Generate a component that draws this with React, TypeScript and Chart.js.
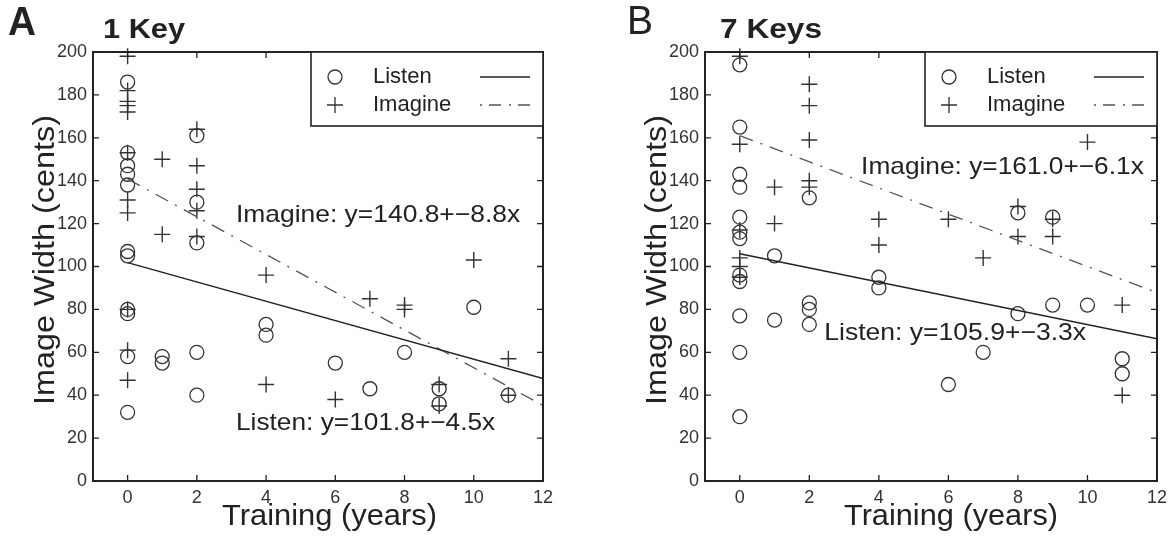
import React, { useEffect, useRef } from "react";
import { Chart, registerables } from "chart.js";
Chart.register(...registerables);

// ---------- data ----------
const X_TICKS = [0, 2, 4, 6, 8, 10, 12];
const Y_TICKS = [0, 20, 40, 60, 80, 100, 120, 140, 160, 180, 200];
const SERIES_NAMES = ["Listen", "Imagine"];
const FIT_X = [0, 12];

// Panel A (1 Key)
const A_LISTEN_X = [0, 0, 0, 0, 0, 0, 0, 0, 0, 0, 0, 1, 1, 2, 2, 2, 2, 2, 4, 4, 6, 7, 8, 9, 9, 10, 11];
const A_LISTEN_Y = [186, 153, 147, 143, 138, 107, 105, 80, 78, 58, 32, 58, 55, 161, 130, 111, 60, 40, 73, 68, 55, 43, 60, 43, 36, 81, 40];
const A_IMAGINE_X = [0, 0, 0, 0, 0, 0, 0, 0, 0, 0, 0, 1, 1, 2, 2, 2, 2, 2, 4, 4, 6, 7, 8, 8, 9, 9, 10, 11, 11];
const A_IMAGINE_Y = [198, 182, 177, 175, 172, 153, 131, 125, 80, 61, 47, 150, 115, 164, 147, 136, 126, 114, 96, 45, 38, 85, 82, 80, 45, 35, 103, 57, 40];
const A_LISTEN_FIT = [101.8, 47.8];
const A_IMAGINE_FIT = [140.8, 35.2];
const A_LISTEN_EQ = "Listen: y=101.8+\u22124.5x";
const A_IMAGINE_EQ = "Imagine: y=140.8+\u22128.8x";

// Panel B (7 Keys)
const B_LISTEN_X = [0, 0, 0, 0, 0, 0, 0, 0, 0, 0, 0, 0, 1, 1, 2, 2, 2, 2, 4, 4, 6, 7, 8, 8, 9, 9, 10, 11, 11];
const B_LISTEN_Y = [194, 165, 143, 137, 123, 116, 113, 96, 93, 77, 60, 30, 105, 75, 132, 83, 80, 73, 95, 90, 45, 60, 125, 78, 123, 82, 82, 57, 50];
const B_IMAGINE_X = [0, 0, 0, 0, 0, 0, 1, 1, 2, 2, 2, 2, 2, 4, 4, 6, 7, 8, 8, 9, 9, 10, 11, 11];
const B_IMAGINE_Y = [198, 157, 117, 104, 100, 95, 137, 120, 185, 175, 159, 140, 137, 122, 110, 122, 104, 128, 114, 122, 114, 158, 82, 40];
const B_LISTEN_FIT = [105.9, 66.3];
const B_IMAGINE_FIT = [161.0, 87.8];
const B_LISTEN_EQ = "Listen: y=105.9+\u22123.3x";
const B_IMAGINE_EQ = "Imagine: y=161.0+\u22126.1x";

// ---------- styling ----------
const INK = "#222";
const MARK = "#333";
const FONT = "'Liberation Sans', Arial, Helvetica, sans-serif";
const DASH = [14, 8, 2, 8];
const CW = 587;
const CH = 537;

const zip = (xs: number[], ys: number[]) => xs.map((x, i) => ({ x, y: ys[i] }));

function fitText(ctx: CanvasRenderingContext2D, text: string, x1: number, x2: number, y: number, font: string, baseline: CanvasTextBaseline = "middle") {
  ctx.save();
  ctx.font = font;
  ctx.textAlign = "left";
  ctx.textBaseline = baseline;
  const w = ctx.measureText(text).width;
  ctx.translate(x1, y);
  ctx.scale((x2 - x1) / w, 1);
  ctx.fillText(text, 0, 0);
  ctx.restore();
}

const PANELS = [
  {
    offset: 0,
    area: { left: 93, top: 52, right: 543, bottom: 481 },
    letter: "A", letterFont: `bold 40px ${FONT}`, letterX: [8, 36], letterY: 35,
    title: "1 Key", titleX: [103, 185],
    xTitleX: [222, 437], yTitleX: 46,
    listen: zip(A_LISTEN_X, A_LISTEN_Y), imagine: zip(A_IMAGINE_X, A_IMAGINE_Y),
    listenFit: zip(FIT_X, A_LISTEN_FIT), imagineFit: zip(FIT_X, A_IMAGINE_FIT),
    listenEq: A_LISTEN_EQ, imagineEq: A_IMAGINE_EQ,
    listenEqPos: { x1: 3.13, x2: 10.62, y: 27 },
    imagineEqPos: { x1: 3.13, x2: 11.34, y: 124 },
  },
  {
    offset: 587,
    area: { left: 705, top: 52, right: 1157, bottom: 481 },
    letter: "B", letterFont: `40px ${FONT}`, letterX: [627, 653], letterY: 34,
    title: "7 Keys", titleX: [720, 822],
    xTitleX: [844, 1058], yTitleX: 658,
    listen: zip(B_LISTEN_X, B_LISTEN_Y), imagine: zip(B_IMAGINE_X, B_IMAGINE_Y),
    listenFit: zip(FIT_X, B_LISTEN_FIT), imagineFit: zip(FIT_X, B_IMAGINE_FIT),
    listenEq: B_LISTEN_EQ, imagineEq: B_IMAGINE_EQ,
    listenEqPos: { x1: 2.43, x2: 9.96, y: 69 },
    imagineEqPos: { x1: 3.49, x2: 11.62, y: 146 },
  },
];

function Panel({ p }: { p: any }) {
  const ref = useRef<HTMLCanvasElement>(null);
  useEffect(() => {
    const off = p.offset;
    const L = p.area.left - off, R = p.area.right - off, T = p.area.top, B = p.area.bottom;
    const YW = 40, XH = 30;

    const decor = {
      id: "decor" + p.letter,
      afterDatasetsDraw(chart: any) {
        const { ctx, chartArea: ca, scales } = chart;
        const xs = scales.x, ys = scales.y;
        ctx.save();
        // frame
        ctx.strokeStyle = INK;
        ctx.lineWidth = 2;
        ctx.strokeRect(ca.left, ca.top, ca.right - ca.left, ca.bottom - ca.top);
        // inward ticks
        ctx.lineWidth = 1.3;
        ctx.beginPath();
        for (const v of X_TICKS) {
          const px = xs.getPixelForValue(v);
          ctx.moveTo(px, ca.bottom); ctx.lineTo(px, ca.bottom - 6);
          ctx.moveTo(px, ca.top); ctx.lineTo(px, ca.top + 6);
        }
        for (const v of Y_TICKS) {
          const py = ys.getPixelForValue(v);
          ctx.moveTo(ca.left, py); ctx.lineTo(ca.left + 6, py);
          ctx.moveTo(ca.right, py); ctx.lineTo(ca.right - 6, py);
        }
        ctx.stroke();

        // legend
        const bl = ca.right - 232, bt = ca.top, bb = ca.top + 74;
        ctx.fillStyle = "#fff";
        ctx.fillRect(bl, bt, ca.right - bl, bb - bt);
        ctx.lineWidth = 1.6;
        ctx.strokeStyle = INK;
        ctx.strokeRect(bl, bt, ca.right - bl, bb - bt);
        const rows = [bt + 25, bt + 53];
        ctx.strokeStyle = MARK;
        ctx.lineWidth = 1.3;
        ctx.beginPath();
        ctx.arc(bl + 24, rows[0], 7, 0, Math.PI * 2);
        ctx.stroke();
        ctx.beginPath();
        ctx.moveTo(bl + 24 - 8, rows[1]); ctx.lineTo(bl + 24 + 8, rows[1]);
        ctx.moveTo(bl + 24, rows[1] - 8); ctx.lineTo(bl + 24, rows[1] + 8);
        ctx.stroke();
        ctx.fillStyle = INK;
        ctx.font = `22px ${FONT}`;
        ctx.textBaseline = "middle";
        ctx.textAlign = "left";
        ctx.fillText(SERIES_NAMES[0], bl + 62, rows[0]);
        ctx.fillText(SERIES_NAMES[1], bl + 62, rows[1]);
        ctx.strokeStyle = INK;
        ctx.lineWidth = 1.5;
        ctx.beginPath();
        ctx.moveTo(bl + 169, rows[0]); ctx.lineTo(bl + 219, rows[0]);
        ctx.stroke();
        ctx.strokeStyle = "#555";
        ctx.lineWidth = 1.3;
        ctx.setLineDash([2, 7, 12, 8]);
        ctx.beginPath();
        ctx.moveTo(bl + 169, rows[1]); ctx.lineTo(bl + 219, rows[1]);
        ctx.stroke();
        ctx.setLineDash([]);

        // equations
        ctx.fillStyle = INK;
        const eqFont = `24px ${FONT}`;
        fitText(ctx, p.imagineEq, xs.getPixelForValue(p.imagineEqPos.x1), xs.getPixelForValue(p.imagineEqPos.x2), ys.getPixelForValue(p.imagineEqPos.y), eqFont);
        fitText(ctx, p.listenEq, xs.getPixelForValue(p.listenEqPos.x1), xs.getPixelForValue(p.listenEqPos.x2), ys.getPixelForValue(p.listenEqPos.y), eqFont);

        // titles
        fitText(ctx, p.letter, p.letterX[0] - off, p.letterX[1] - off, p.letterY, p.letterFont, "alphabetic");
        fitText(ctx, p.title, p.titleX[0] - off, p.titleX[1] - off, 38, `bold 28px ${FONT}`, "alphabetic");
        // axis titles
        fitText(ctx, "Training (years)", p.xTitleX[0] - off, p.xTitleX[1] - off, 517, `30px ${FONT}`);
        ctx.save();
        ctx.translate(p.yTitleX - off, 405);
        ctx.rotate(-Math.PI / 2);
        fitText(ctx, "Image Width (cents)", 0, 290, 0, `29px ${FONT}`);
        ctx.restore();
        ctx.restore();
      },
    };

    const chart = new Chart(ref.current as HTMLCanvasElement, {
      type: "scatter",
      data: {
        datasets: [
          {
            label: "Listen fit", data: p.listenFit, showLine: true, pointRadius: 0,
            borderColor: INK, borderWidth: 1.5, fill: false,
          },
          {
            label: "Imagine fit", data: p.imagineFit, showLine: true, pointRadius: 0,
            borderColor: "#555", borderWidth: 1.3, borderDash: DASH, fill: false,
          },
          {
            label: SERIES_NAMES[0], data: p.listen, pointStyle: "circle", pointRadius: 7,
            borderColor: MARK, backgroundColor: "rgba(0,0,0,0)", borderWidth: 1.3, clip: false,
          },
          {
            label: SERIES_NAMES[1], data: p.imagine, pointStyle: "cross", pointRadius: 8,
            borderColor: MARK, backgroundColor: MARK, borderWidth: 1.4, clip: false,
          },
        ],
      } as any,
      options: {
        responsive: false,
        animation: false,
        events: [],
        layout: { padding: { left: L - YW, top: T, right: CW - R, bottom: CH - B - XH } },
        plugins: { legend: { display: false }, tooltip: { enabled: false }, title: { display: false } },
        scales: {
          x: {
            type: "linear", min: -1, max: 12,
            grid: { display: false, drawTicks: false },
            border: { display: false },
            afterBuildTicks: (s: any) => { s.ticks = X_TICKS.map((v) => ({ value: v })); },
            afterFit: (s: any) => { s.height = XH; },
            ticks: { padding: 6, color: "#333", font: { family: FONT, size: 18 }, maxRotation: 0 },
          },
          y: {
            type: "linear", min: 0, max: 200,
            grid: { display: false, drawTicks: false },
            border: { display: false },
            afterBuildTicks: (s: any) => { s.ticks = Y_TICKS.map((v) => ({ value: v })); },
            afterFit: (s: any) => { s.width = YW; },
            ticks: { padding: 6, color: "#333", font: { family: FONT, size: 18 } },
          },
        },
      } as any,
      plugins: [decor],
    });
    return () => chart.destroy();
  }, []);
  return (
    <canvas
      ref={ref}
      width={CW}
      height={CH}
      style={{ position: "absolute", left: p.offset, top: 0, width: CW, height: CH }}
    />
  );
}

export default function App() {
  return (
    <div style={{ position: "absolute", left: 0, top: 0, width: 1174, height: 537, background: "#fff" }}>
      {PANELS.map((p) => (
        <Panel key={p.letter} p={p} />
      ))}
    </div>
  );
}
